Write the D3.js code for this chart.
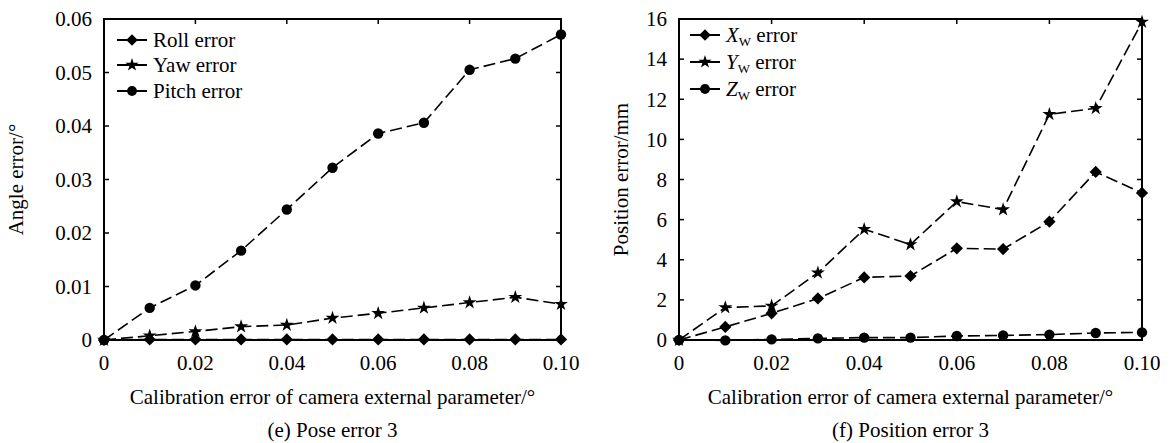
<!DOCTYPE html>
<html>
<head>
<meta charset="utf-8">
<script src="https://cdn.jsdelivr.net/npm/d3@7"></script>
<style>
  body { margin: 0; background: #fff; }
  svg { display: block; font-family: "Liberation Serif", "Times New Roman", serif; }
</style>
</head>
<body>
<svg id="chart" width="1175" height="443"></svg>
<script>
// x values shared by both panels
const xValues = [0, 0.01, 0.02, 0.03, 0.04, 0.05, 0.06, 0.07, 0.08, 0.09, 0.10];
const xTicks = [0, 0.02, 0.04, 0.06, 0.08, 0.10];

// (e) pose error, degrees
const rollError  = [0, 0.0001, 0.0001, 0.0001, 0.0001, 0.0001, 0.0001, 0.0001, 0.0001, 0.0001, 0.0001];
const yawError   = [0, 0.0008, 0.0016, 0.0025, 0.0028, 0.0041, 0.0050, 0.0060, 0.0070, 0.0080, 0.0067];
const pitchError = [0, 0.0060, 0.0102, 0.0167, 0.0244, 0.0322, 0.0386, 0.0406, 0.0505, 0.0526, 0.0571];
const angleTicks = [0, 0.01, 0.02, 0.03, 0.04, 0.05, 0.06];

// (f) position error, mm
const xwError = [0, 0.65, 1.33, 2.07, 3.12, 3.19, 4.57, 4.53, 5.9, 8.38, 7.33];
const ywError = [0, 1.62, 1.7, 3.35, 5.52, 4.76, 6.9, 6.5, 11.25, 11.55, 15.85];
const zwError = [0, -0.02, 0.03, 0.08, 0.12, 0.12, 0.2, 0.23, 0.27, 0.35, 0.38];
const posTicks = [0, 2, 4, 6, 8, 10, 12, 14, 16];

const svg = d3.select('#chart');
const fontSize = 21;

// diamond drawn as a square turned 45 degrees (wider than d3's own diamond)
const squareDiamond = {
    draw(ctx, size) {
        const r = Math.sqrt(size / 2);
        ctx.moveTo(0, -r); ctx.lineTo(r, 0); ctx.lineTo(0, r); ctx.lineTo(-r, 0); ctx.closePath();
    }
};

function drawPanel(cfg) {
    const g = svg.append('g');
    const x = d3.scaleLinear().domain([0, 0.10]).range([cfg.left, cfg.right]);
    const y = d3.scaleLinear().domain(cfg.yDomain).range([cfg.bottom, cfg.top]);
    const tickLen = 5;

    // frame
    g.append('rect')
        .attr('x', cfg.left).attr('y', cfg.top)
        .attr('width', cfg.right - cfg.left).attr('height', cfg.bottom - cfg.top)
        .attr('fill', 'none').attr('stroke', '#000').attr('stroke-width', 2);

    // inward ticks on all four sides
    xTicks.forEach(t => {
        g.append('line').attr('x1', x(t)).attr('x2', x(t))
            .attr('y1', cfg.bottom).attr('y2', cfg.bottom - tickLen)
            .attr('stroke', '#000').attr('stroke-width', 1.5);
        g.append('line').attr('x1', x(t)).attr('x2', x(t))
            .attr('y1', cfg.top).attr('y2', cfg.top + tickLen)
            .attr('stroke', '#000').attr('stroke-width', 1.5);
        g.append('text').attr('x', x(t)).attr('y', cfg.bottom + 30)
            .attr('text-anchor', 'middle').attr('font-size', fontSize)
            .text(t === 0 ? '0' : d3.format('.2f')(t));
    });
    cfg.yTicks.forEach(t => {
        g.append('line').attr('x1', cfg.left).attr('x2', cfg.left + tickLen)
            .attr('y1', y(t)).attr('y2', y(t))
            .attr('stroke', '#000').attr('stroke-width', 1.5);
        g.append('line').attr('x1', cfg.right).attr('x2', cfg.right - tickLen)
            .attr('y1', y(t)).attr('y2', y(t))
            .attr('stroke', '#000').attr('stroke-width', 1.5);
        g.append('text').attr('x', cfg.left - 12).attr('y', y(t))
            .attr('dy', '0.35em')
            .attr('text-anchor', 'end').attr('font-size', fontSize)
            .text(cfg.yFormat(t));
    });

    // axis titles
    g.append('text')
        .attr('transform', `translate(${cfg.yLabelX}, ${(cfg.top + cfg.bottom) / 2}) rotate(-90)`)
        .attr('text-anchor', 'middle').attr('dy', '0.35em').attr('font-size', fontSize)
        .text(cfg.yLabel);
    g.append('text')
        .attr('x', (cfg.left + cfg.right) / 2).attr('y', 404)
        .attr('text-anchor', 'middle').attr('font-size', fontSize)
        .text('Calibration error of camera external parameter/°');
    g.append('text')
        .attr('x', (cfg.left + cfg.right) / 2).attr('y', 437)
        .attr('text-anchor', 'middle').attr('font-size', fontSize)
        .text(cfg.caption);

    // series
    const line = d3.line().x(d => x(d[0])).y(d => y(d[1]));
    cfg.series.forEach(s => {
        const pts = xValues.map((v, i) => [v, s.values[i]]);
        g.append('path').datum(pts)
            .attr('d', line)
            .attr('fill', 'none').attr('stroke', '#000').attr('stroke-width', 1.6)
            .attr('stroke-dasharray', '12,5');
        g.selectAll(null).data(pts).join('path')
            .attr('transform', d => `translate(${x(d[0])},${y(d[1])})`)
            .attr('d', d3.symbol().type(s.symbol).size(s.size))
            .attr('fill', '#000');
    });

    // legend
    cfg.series.forEach((s, i) => {
        const ly = cfg.legendY[i];
        g.append('line').attr('x1', cfg.legendX).attr('x2', cfg.legendX + 30)
            .attr('y1', ly).attr('y2', ly)
            .attr('stroke', '#000').attr('stroke-width', 2);
        g.append('path')
            .attr('transform', `translate(${cfg.legendX + 15},${ly})`)
            .attr('d', d3.symbol().type(s.symbol).size(s.size * 0.9))
            .attr('fill', '#000');
        const t = g.append('text').attr('x', cfg.legendX + 36).attr('y', ly)
            .attr('dy', '0.35em').attr('font-size', fontSize);
        if (s.axis) {
            t.append('tspan').attr('font-style', 'italic').text(s.axis);
            t.append('tspan').attr('font-size', 13).attr('dy', 4).text('W');
            t.append('tspan').attr('dy', -4).text(' error');
        } else {
            t.text(s.label);
        }
    });
}

drawPanel({
    left: 104, right: 561, top: 19, bottom: 340,
    yDomain: [0, 0.06], yTicks: angleTicks,
    yFormat: t => t === 0 ? '0' : d3.format('.2f')(t),
    yLabel: 'Angle error/°', yLabelX: 16,
    caption: '(e) Pose error 3',
    legendX: 117, legendY: [40, 65, 91],
    series: [
        { label: 'Roll error', values: rollError, symbol: squareDiamond, size: 75 },
        { label: 'Yaw error', values: yawError, symbol: d3.symbolStar, size: 60 },
        { label: 'Pitch error', values: pitchError, symbol: d3.symbolCircle, size: 85 }
    ]
});

drawPanel({
    left: 679, right: 1142, top: 19, bottom: 340,
    yDomain: [0, 16], yTicks: posTicks,
    yFormat: t => String(t),
    yLabel: 'Position error/mm', yLabelX: 621,
    caption: '(f) Position error 3',
    legendX: 690, legendY: [35, 62, 89],
    series: [
        { axis: 'X', values: xwError, symbol: squareDiamond, size: 75 },
        { axis: 'Y', values: ywError, symbol: d3.symbolStar, size: 60 },
        { axis: 'Z', values: zwError, symbol: d3.symbolCircle, size: 85 }
    ]
});
</script>
</body>
</html>
